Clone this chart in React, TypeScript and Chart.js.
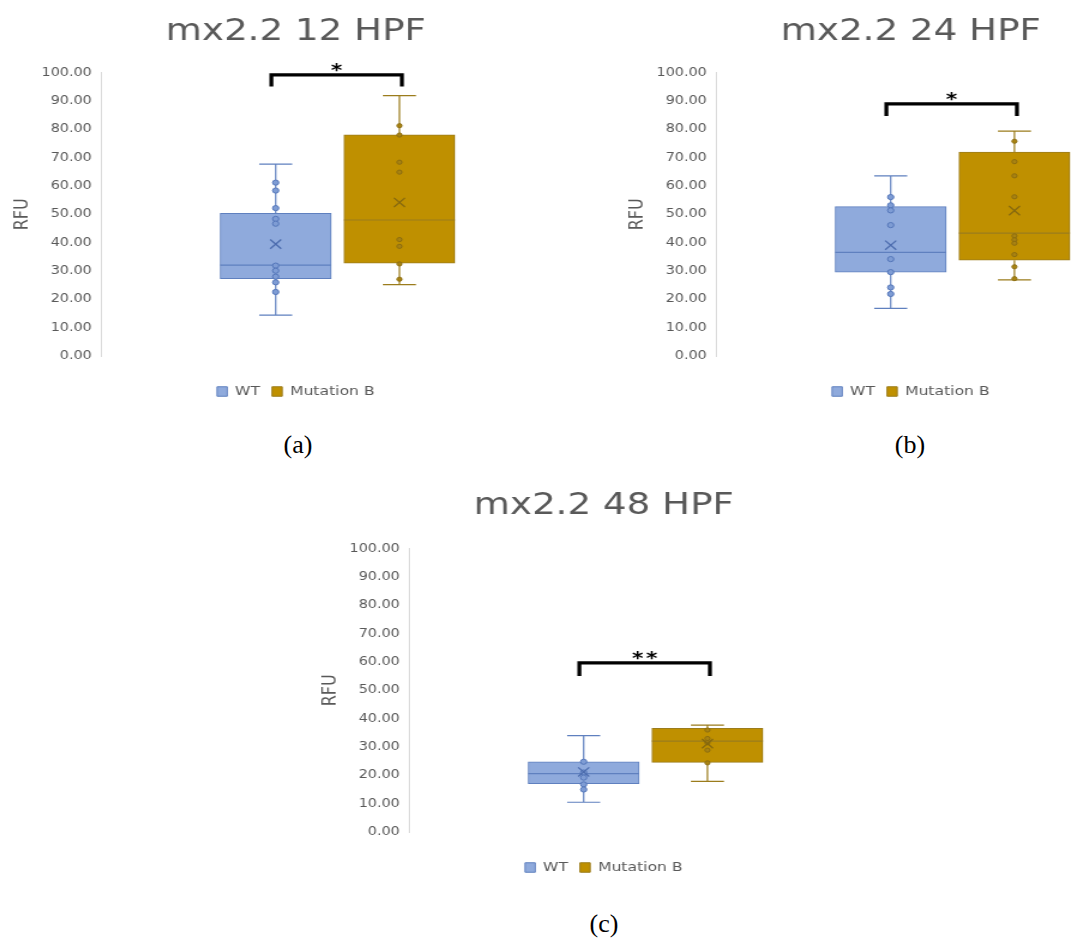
import React, { useEffect, useRef } from "react";
import { Chart, registerables } from "chart.js";

Chart.register(...registerables);

// ---------- data ----------
const categories = ["WT", "Mutation B"];
const panelTitles = ["mx2.2 12 HPF", "mx2.2 24 HPF", "mx2.2 48 HPF"];
const panelCaptions = ["(a)", "(b)", "(c)"];
const yMin = 0;
const yMax = 100;
const yStep = 10;

// five-number summaries: [min, q1, median, q3, max]
const wt12 = [14.4, 27.3, 32.1, 50.4, 67.7];
const mut12 = [25.2, 32.8, 48.0, 78.1, 91.9];
const wt24 = [16.8, 29.6, 36.6, 52.7, 63.6];
const mut24 = [26.9, 33.8, 43.4, 72.0, 79.4];
const wt48 = [10.5, 17.1, 20.6, 24.8, 34.0];
const mut48 = [17.9, 24.6, 32.1, 36.6, 37.7];

const wtMeans = [39.5, 39.1, 21.2];
const mutMeans = [54.2, 51.3, 31.2];

// inner points
const wtPoints12 = [61.2, 58.4, 52.2, 48.4, 46.7, 31.9, 30.1, 28.0, 26.0, 22.6];
const mutPoints12 = [81.3, 78.0, 68.4, 64.9, 41.1, 38.7, 32.5, 27.1];
const wtPoints24 = [56.1, 53.2, 51.4, 46.2, 34.2, 29.6, 24.2, 21.9];
const mutPoints24 = [75.8, 68.6, 63.6, 56.2, 42.4, 41.0, 39.8, 35.8, 31.5, 27.3];
const wtPoints48 = [24.8, 21.0, 19.2, 16.8, 15.0];
const mutPoints48 = [36.0, 33.0, 31.5, 28.9, 24.4];

// significance brackets
const sigLabels = ["*", "*", "**"];
const bracketTop = [99.2, 89.0, 59.7];
const bracketBottom = [95.1, 84.7, 55.1];

// ---------- layout / style ----------
const SX = 1.2; // horizontal stretch of the source figure
const CW = 493;
const CH = 408;
const FONT = '"DejaVu Sans", sans-serif';
const GRAY = "#595959";

const panelPos = [
  { left: 0, top: 0 },
  { left: 615, top: 0 },
  { left: 307.5, top: 476 },
];
const titleShift = [0, 0, -1.5];
const captionPos = [
  { cx: 298, cy: 447.5 },
  { cx: 910, cy: 447.5 },
  { cx: 604, cy: 927 },
];

const WT_FILL = "#8faadc";
const WT_LINE = "#5f80bf";
const MUT_FILL = "#bf9000";
const MUT_LINE = "#9b7c1c";

const boxPlugin = {
  id: "boxWhiskers",
  afterDatasetDraw(chart: any, args: any) {
    const ds: any = chart.data.datasets[args.index];
    if (!ds.stats) return;
    const el: any = args.meta.data[0];
    if (!el) return;
    const y = chart.scales.y;
    const ctx = chart.ctx;
    const { x, width } = el.getProps(["x", "width"], true);
    const [mn, q1, med, q3, mx] = ds.stats;
    const cap = width * 0.149;
    const pMin = y.getPixelForValue(mn);
    const pQ1 = y.getPixelForValue(q1);
    const pMed = y.getPixelForValue(med);
    const pQ3 = y.getPixelForValue(q3);
    const pMax = y.getPixelForValue(mx);
    ctx.save();
    ctx.strokeStyle = ds.whiskerColor;
    ctx.lineWidth = 1.2;
    ctx.beginPath();
    ctx.moveTo(x, pQ3);
    ctx.lineTo(x, pMax);
    ctx.moveTo(x - cap, pMax);
    ctx.lineTo(x + cap, pMax);
    ctx.moveTo(x, pQ1);
    ctx.lineTo(x, pMin);
    ctx.moveTo(x - cap, pMin);
    ctx.lineTo(x + cap, pMin);
    ctx.moveTo(x - width / 2, pMed);
    ctx.lineTo(x + width / 2, pMed);
    ctx.stroke();
    ctx.restore();
  },
};

const sigPlugin = {
  id: "sigBracket",
  afterDraw(chart: any, _args: any, opts: any) {
    if (!opts || opts.top == null) return;
    const xs = chart.scales.x;
    const ys = chart.scales.y;
    const ctx = chart.ctx;
    const x0 = xs.getPixelForValue(opts.from);
    const x1 = xs.getPixelForValue(opts.to);
    const yt = ys.getPixelForValue(opts.top);
    const yb = ys.getPixelForValue(opts.bottom);
    ctx.save();
    ctx.strokeStyle = "#000";
    ctx.lineWidth = 3.3;
    ctx.lineJoin = "miter";
    ctx.lineCap = "butt";
    ctx.beginPath();
    ctx.moveTo(x0, yb);
    ctx.lineTo(x0, yt);
    ctx.lineTo(x1, yt);
    ctx.lineTo(x1, yb);
    ctx.stroke();
    ctx.fillStyle = "#000";
    ctx.font = 'bold 18px "DejaVu Sans"';
    ctx.textAlign = "center";
    ctx.textBaseline = "alphabetic";
    const chars = String(opts.label).split("");
    const cx = (x0 + x1) / 2;
    chars.forEach((c, i) => {
      ctx.fillText(c, cx + (i - (chars.length - 1) / 2) * 11.7, yt - 9.5 + 10.7);
    });
    ctx.restore();
  },
};

function makeConfig(i: number): any {
  const wtStats = [wt12, wt24, wt48][i];
  const mutStats = [mut12, mut24, mut48][i];
  const wtPts = [wtPoints12, wtPoints24, wtPoints48][i];
  const mutPts = [mutPoints12, mutPoints24, mutPoints48][i];
  const shift = titleShift[i];
  return {
    type: "bar",
    data: {
      datasets: [
        {
          type: "bar",
          label: categories[0],
          data: [{ x: 0, y: [wtStats[1], wtStats[3]] }],
          stats: wtStats,
          whiskerColor: WT_LINE,
          backgroundColor: WT_FILL,
          borderColor: WT_LINE,
          borderWidth: 1,
          borderSkipped: false,
          grouped: false,
          barThickness: 92.5,
          order: 3,
        },
        {
          type: "bar",
          label: categories[1],
          data: [{ x: 1, y: [mutStats[1], mutStats[3]] }],
          stats: mutStats,
          whiskerColor: MUT_LINE,
          backgroundColor: MUT_FILL,
          borderColor: MUT_LINE,
          borderWidth: 1,
          borderSkipped: false,
          grouped: false,
          barThickness: 92.5,
          order: 3,
        },
        {
          type: "scatter",
          label: "wt-points",
          data: wtPts.map((v) => ({ x: 0, y: v })),
          pointRadius: 2.6,
          pointBackgroundColor: "#7e9cd4",
          pointBorderColor: "#5577ba",
          pointBorderWidth: 1,
          order: 1,
        },
        {
          type: "scatter",
          label: "mut-points",
          data: mutPts.map((v) => ({ x: 1, y: v })),
          pointRadius: 2.1,
          pointBackgroundColor: "#a98311",
          pointBorderColor: "#8c6d10",
          pointBorderWidth: 1,
          order: 1,
        },
        {
          type: "scatter",
          label: "means",
          data: [
            { x: 0, y: wtMeans[i] },
            { x: 1, y: mutMeans[i] },
          ],
          pointStyle: "crossRot",
          pointRadius: 6.5,
          pointBorderWidth: 1.3,
          pointBorderColor: ["#4c6cae", "#86690f"],
          order: 0,
        },
      ],
    },
    options: {
      animation: false,
      responsive: false,
      devicePixelRatio: 1,
      events: [],
      layout: { padding: 0 },
      plugins: {
        title: {
          display: true,
          text: panelTitles[i],
          color: GRAY,
          font: { family: FONT, size: 31, weight: "normal", lineHeight: 1.2 },
          padding: { top: 13 + shift, bottom: 22.5 - shift },
        },
        legend: {
          position: "bottom",
          labels: {
            filter: (item: any) => item.datasetIndex < 2,
            boxWidth: 8.5,
            boxHeight: 9.5,
            padding: 10,
            color: GRAY,
            font: { family: FONT, size: 13 },
          },
        },
        tooltip: { enabled: false },
        sigBracket: {
          from: -0.035,
          to: 1.02,
          top: bracketTop[i],
          bottom: bracketBottom[i],
          label: sigLabels[i],
        },
      },
      scales: {
        x: {
          type: "linear",
          min: -1.413,
          max: 2.477,
          offset: false,
          grid: { display: false, offset: false },
          border: { display: false },
          ticks: { display: false },
          afterFit: (s: any) => {
            s.height = 19;
          },
        },
        y: {
          type: "linear",
          min: yMin,
          max: yMax,
          stacked: false,
          ticks: {
            stepSize: yStep,
            callback: (v: any) => Number(v).toFixed(2),
            color: GRAY,
            font: { family: FONT, size: 12 },
            padding: 7.5,
          },
          grid: { display: false, drawTicks: false },
          border: { display: true, color: "#d9d9d9", width: 1 },
          title: {
            display: true,
            text: "RFU",
            color: GRAY,
            font: { family: FONT, size: 16, weight: "normal" },
            padding: { top: 9, bottom: 0 },
          },
          afterFit: (s: any) => {
            s.width = 84;
          },
        },
      },
    },
    plugins: [boxPlugin, sigPlugin],
  };
}

function Panel({ index }: { index: number }) {
  const ref = useRef<HTMLCanvasElement | null>(null);
  useEffect(() => {
    if (!ref.current) return;
    const chart = new Chart(ref.current, makeConfig(index));
    return () => chart.destroy();
  }, [index]);
  const pos = panelPos[index];
  return (
    <div
      style={{
        position: "absolute",
        left: pos.left,
        top: pos.top,
        width: CW,
        height: CH,
        transform: `scaleX(${SX})`,
        transformOrigin: "0 0",
      }}
    >
      <canvas ref={ref} width={CW} height={CH} />
    </div>
  );
}

export default function App() {
  return (
    <div
      style={{
        position: "fixed",
        left: 0,
        top: 0,
        width: 1071,
        height: 938,
        overflow: "hidden",
        background: "#fff",
      }}
    >
      {[0, 1, 2].map((i) => (
        <Panel key={i} index={i} />
      ))}
      {panelCaptions.map((c, i) => (
        <div
          key={c}
          style={{
            position: "absolute",
            left: captionPos[i].cx - 40,
            top: captionPos[i].cy - 17.7,
            width: 80,
            height: 30,
            lineHeight: "30px",
            textAlign: "center",
            fontFamily: '"Liberation Serif", serif',
            fontSize: 26,
            color: "#000",
          }}
        >
          {c}
        </div>
      ))}
    </div>
  );
}
